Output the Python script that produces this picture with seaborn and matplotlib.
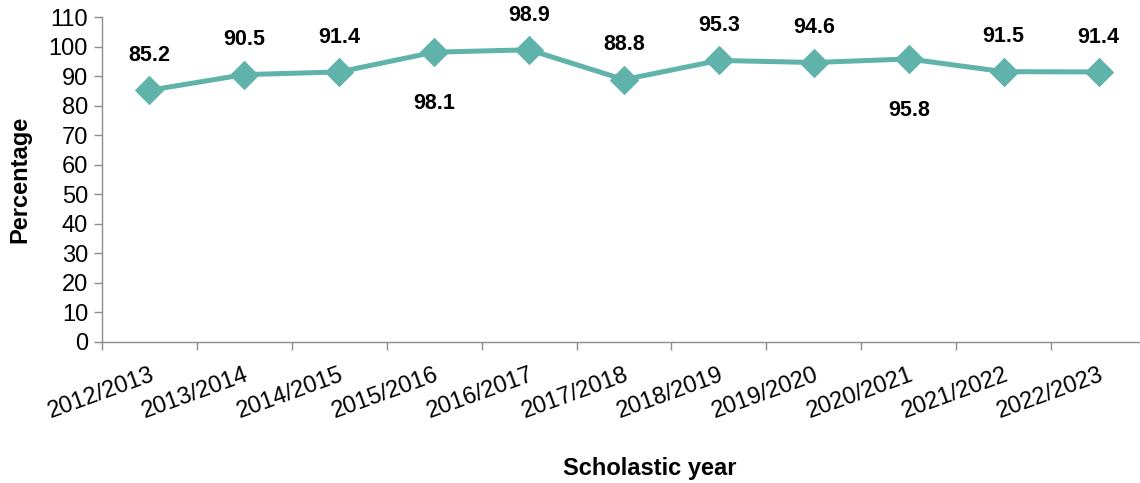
import numpy as np
import pandas as pd
import matplotlib
matplotlib.use("Agg")
import matplotlib.pyplot as plt
import seaborn as sns

years = ["2012/2013", "2013/2014", "2014/2015", "2015/2016", "2016/2017", "2017/2018",
         "2018/2019", "2019/2020", "2020/2021", "2021/2022", "2022/2023"]
values = [85.2, 90.5, 91.4, 98.1, 98.9, 88.8, 95.3, 94.6, 95.8, 91.5, 91.4]
label_below = [False, False, False, True, False, False, False, False, True, False, False]

sns.set_theme(style="white")
plt.rcParams['font.family'] = ['Liberation Sans', 'DejaVu Sans']
plt.rcParams['text.color'] = 'black'
plt.rcParams['axes.labelcolor'] = 'black'
plt.rcParams['xtick.color'] = 'black'
plt.rcParams['ytick.color'] = 'black'

teal = "#5fb3ab"
grey = "#8c8c8c"

df = pd.DataFrame({"year": years, "value": values, "x": np.arange(len(years))})

fig = plt.figure(figsize=(11.4, 4.83), dpi=100)
ax = fig.add_axes([102 / 1140, 141 / 483, 1044 / 1140, 325 / 483])

sns.lineplot(data=df, x="x", y="value", ax=ax, color=teal, linewidth=3.6,
             marker="D", markersize=14, markeredgecolor=teal, markerfacecolor=teal)

for xi, v, below in zip(df["x"], values, label_below):
    if below:
        ax.annotate(f"{v:.1f}", (xi, v), xytext=(0, -37), textcoords="offset points",
                    ha="center", va="center", fontsize=15.5, fontweight="bold")
    else:
        ax.annotate(f"{v:.1f}", (xi, v), xytext=(0, 25), textcoords="offset points",
                    ha="center", va="center", fontsize=15.5, fontweight="bold")

ax.set_xlim(-0.5, len(years) - 0.5)
ax.set_ylim(0, 110)
ax.set_yticks(range(0, 111, 10))
ax.set_xticks(df["x"])
ax.set_xticklabels(years, rotation=20, ha="right", rotation_mode="anchor")
ax.set_xticks(np.arange(-0.5, len(years), 1), minor=True)
ax.tick_params(axis="x", which="major", length=0, labelsize=17, pad=16)
ax.tick_params(axis="x", which="minor", length=6, color=grey, width=1, direction="out", bottom=True)
ax.tick_params(axis="y", length=6, color=grey, width=1, direction="out", left=True, labelsize=17, pad=4)

for side in ["top", "right"]:
    ax.spines[side].set_visible(False)
for side in ["left", "bottom"]:
    ax.spines[side].set_color(grey)
    ax.spines[side].set_linewidth(1)

ax.set_xlabel("Scholastic year", fontsize=17, fontweight="bold")
ax.set_ylabel("Percentage", fontsize=17, fontweight="bold")
ax.xaxis.set_label_coords((650 - 102) / 1044, -(468 - 342) / 325)
ax.yaxis.set_label_coords(-(102 - 20) / 1044, 0.5)
ax.xaxis.label.set_va("center")
ax.yaxis.label.set_va("center")

fig.savefig("out.png", dpi=100)
